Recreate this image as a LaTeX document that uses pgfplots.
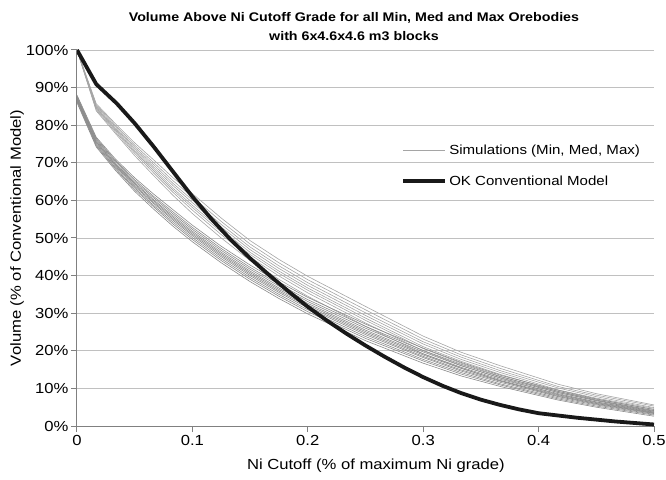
\documentclass[border=0pt]{standalone}
\usepackage{fontspec}
\setmainfont{Liberation Sans}[FakeStretch=1.14]
\usepackage{pgfplots}
\usepackage{pgfplotstable}
\pgfplotsset{compat=1.18}

\definecolor{gridc}{RGB}{192,192,192}
\definecolor{axisc}{RGB}{128,128,128}
\definecolor{simU}{RGB}{165,165,165}
\definecolor{simL}{RGB}{138,138,138}
\definecolor{okc}{RGB}{25,25,25}

\pgfplotstableread{
x      u1    u2    u3    u4    u5    u6    u7    u8    l1    l2    l3    l4    l5    l6    l7    l8    l9    l10
0      100   100   100   100   100   100   100   100   86.0  86.3  86.5  86.7  86.9  87.1  87.3  87.5  87.7  88.0
0.0167 83.8  84.1  84.4  84.6  84.8  85.1  85.4  85.7  74.2  74.5  74.8  75.1  75.4  75.6  75.9  76.2  76.5  76.8
0.0333 77.8  78.2  78.6  78.9  79.2  79.6  80.0  80.4  68.0  68.4  68.7  69.1  69.4  69.6  69.9  70.3  70.6  71.0
0.05   71.9  72.5  72.9  73.3  73.8  74.2  74.7  75.3  62.4  62.9  63.3  63.7  64.0  64.4  64.7  65.1  65.5  66.0
0.0667 66.5  67.2  67.8  68.3  68.8  69.4  70.0  70.7  57.6  58.2  58.6  59.1  59.4  59.8  60.1  60.6  61.0  61.6
0.0833 61.3  62.1  62.7  63.2  63.9  64.5  65.2  66.0  53.1  53.7  54.2  54.7  55.1  55.5  55.9  56.4  56.9  57.5
0.1    56.5  57.4  58.1  58.7  59.4  60.1  60.9  61.8  49.0  49.6  50.1  50.6  51.0  51.4  51.8  52.3  52.8  53.4
0.125  50.0  50.9  51.6  52.2  52.9  53.6  54.4  55.3  43.4  44.0  44.5  45.0  45.4  45.8  46.2  46.7  47.2  47.8
0.15   44.0  44.9  45.6  46.2  46.9  47.6  48.4  49.3  38.4  39.0  39.5  40.0  40.4  40.8  41.2  41.7  42.2  42.8
0.175  39.0  39.9  40.6  41.2  41.9  42.6  43.4  44.3  33.9  34.5  35.0  35.5  35.9  36.3  36.7  37.2  37.7  38.3
0.2    34.5  35.4  36.1  36.7  37.4  38.1  38.9  39.8  29.8  30.4  30.9  31.4  31.8  32.2  32.6  33.1  33.6  34.2
0.25   26.5  27.4  28.1  28.7  29.4  30.1  30.9  31.8  22.7  23.3  23.8  24.3  24.7  25.1  25.5  26.0  26.5  27.1
0.3    19.2  20.0  20.6  21.1  21.8  22.4  23.1  23.9  16.7  17.3  17.7  18.2  18.5  18.9  19.2  19.7  20.1  20.7
0.333  15.4  16.1  16.7  17.2  17.7  18.3  18.9  19.6  13.3  13.8  14.2  14.6  14.9  15.3  15.6  16.0  16.4  16.9
0.367  12.0  12.7  13.2  13.7  14.2  14.7  15.3  16.0  10.5  10.9  11.2  11.6  11.9  12.1  12.4  12.8  13.1  13.5
0.417  7.9   8.4   8.9   9.2   9.6   10.1  10.5  11.1  6.9   7.2   7.5   7.8   8.1   8.3   8.6   8.9   9.2   9.5
0.45   6.0   6.4   6.8   7.1   7.4   7.8   8.2   8.6   5.0   5.3   5.6   5.8   6.0   6.2   6.4   6.7   6.9   7.2
0.5    3.5   3.9   4.1   4.4   4.7   4.9   5.3   5.6   2.6   2.9   3.1   3.3   3.4   3.6   3.7   3.9   4.1   4.4
}\sims

\pgfplotstableread{
x      y
0      100
0.0167 90.9
0.0344 85.8
0.05   80.5
0.0667 74.2
0.0833 67.6
0.1    61.0
0.1167 55.0
0.1333 49.5
0.15   44.6
0.1667 40.1
0.1833 35.8
0.2    31.7
0.2167 28.0
0.2333 24.6
0.25   21.4
0.2667 18.4
0.2833 15.6
0.3    13.0
0.3167 10.7
0.3333 8.7
0.35   7.0
0.3667 5.6
0.3833 4.4
0.4    3.4
0.4167 2.8
0.4333 2.2
0.45   1.7
0.4667 1.2
0.4833 0.8
0.5    0.4
}\okdata

\begin{document}
\begin{tikzpicture}
\begin{axis}[
  scale only axis,
  width=577pt, height=376pt,
  xmin=0, xmax=0.5, ymin=0, ymax=100,
  axis lines=left,
  axis line style={-, axisc, line width=1pt},
  xtick={0,0.1,0.2,0.3,0.4,0.5},
  xticklabels={0,0.1,0.2,0.3,0.4,0.5},
  ytick={0,10,20,30,40,50,60,70,80,90,100},
  yticklabels={0\%,10\%,20\%,30\%,40\%,50\%,60\%,70\%,80\%,90\%,100\%},
  tick align=outside,
  major tick length=6pt,
  tick style={axisc, line width=1pt},
  ymajorgrids,
  grid style={gridc, line width=0.9pt},
  ticklabel style={font=\fontsize{14.6}{16}\selectfont},
  yticklabel style={xshift=1pt},
  title={Volume Above Ni Cutoff Grade for all Min, Med and Max Orebodies\\with 6x4.6x4.6 m3 blocks},
  title style={font=\bfseries\fontsize{12.5}{19}\selectfont, align=center, at={(axis description cs:0.48,1)}},
  xlabel={Ni Cutoff (\% of maximum Ni grade)},
  ylabel={Volume (\% of Conventional Model)},
  label style={font=\fontsize{14.6}{17}\selectfont},
  xlabel style={at={(axis description cs:0.518,-0.1064)}, anchor=center},
  ylabel style={at={(axis description cs:-0.104,0.5)}, anchor=center},
  legend style={draw=none, fill=none, at={(axis description cs:0.562,0.754)}, anchor=north west,
    font=\fontsize{13.2}{15}\selectfont, row sep=16pt, inner sep=0pt},
  legend cell align=left,
  legend image code/.code={\draw[#1] (0pt,0pt) -- (42pt,0pt);},
]
\addplot[simU, line width=0.6pt] table[x=x, y=u1] {\sims};
\addlegendentry{Simulations (Min, Med, Max)}
\pgfplotsinvokeforeach{u2,u3,u4,u5,u6,u7,u8}{
  \addplot[simU, line width=0.6pt, forget plot] table[x=x, y=#1] {\sims};
}
\pgfplotsinvokeforeach{l1,l2,l3,l4,l5,l6,l7,l8,l9,l10}{
  \addplot[simL, line width=0.6pt, forget plot] table[x=x, y=#1] {\sims};
}
\addplot[okc, line width=3.8pt, line join=round] table[x=x, y=y] {\okdata};
\addlegendentry{OK Conventional Model}
\end{axis}
\pgfresetboundingbox
\path ([xshift=-77pt,yshift=-53pt]current axis.south west) rectangle ([xshift=12pt,yshift=50pt]current axis.north east);
\end{tikzpicture}
\end{document}
